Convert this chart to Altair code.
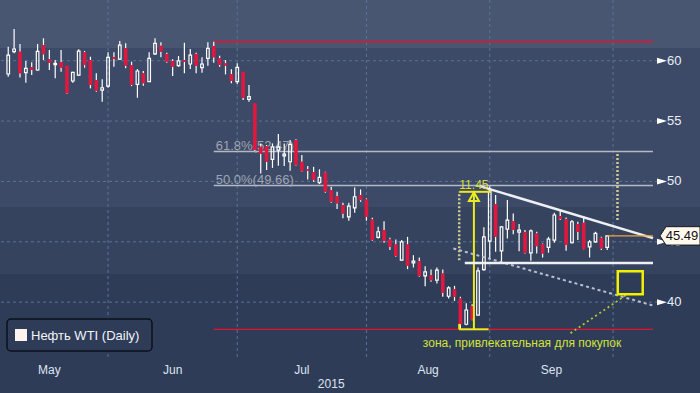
import altair as alt
import pandas as pd

# ---------------- data ----------------
opens = [58.90, 60.75, 60.75, 59.01, 59.45, 59.23, 61.30, 60.12, 59.67, 59.89,
         59.59, 58.32, 58.81, 60.70, 60.06, 58.40, 57.57, 57.90, 60.31, 60.14,
         61.03, 59.64, 58.04, 58.96, 58.26, 60.56, 61.24, 60.56, 59.98, 59.59,
         60.06, 59.73, 60.56, 59.42, 60.20, 61.22, 60.20, 59.78, 58.90, 58.26,
         59.09, 56.80, 56.47, 52.87, 52.93, 51.82, 52.60, 52.12, 51.63, 53.43,
         51.63, 51.00, 50.77, 49.89, 50.75, 49.28, 48.78, 48.04, 47.07, 47.81,
         48.87, 48.51, 46.85, 45.36, 45.97, 45.19, 44.78, 43.48, 44.78, 43.26,
         43.40, 42.18, 42.23, 41.82, 42.37, 40.49, 41.07, 40.30, 38.17, 39.68,
         38.92, 42.70, 45.06, 48.11, 44.25, 46.05, 46.71, 45.80, 45.80, 44.08,
         45.69, 44.80, 44.53, 45.14, 47.13, 46.86, 44.92, 46.46, 46.57, 44.58,
         45.00, 45.33, 44.53]
highs = [61.16, 62.63, 61.38, 59.98, 59.87, 61.38, 61.86, 60.89, 60.06, 60.89,
         59.59, 59.09, 60.94, 60.80, 60.33, 58.96, 58.46, 60.70, 60.70, 61.63,
         61.44, 59.92, 59.31, 59.15, 60.70, 61.86, 61.53, 60.66, 60.12, 60.39,
         61.49, 60.97, 60.66, 60.28, 61.53, 61.57, 60.41, 60.06, 59.29, 59.78,
         59.09, 57.99, 56.47, 53.15, 53.01, 53.15, 53.92, 53.15, 53.43, 53.49,
         52.18, 51.27, 51.21, 51.00, 50.80, 49.55, 49.14, 48.23, 48.23, 49.50,
         49.34, 48.59, 46.99, 46.24, 46.71, 45.33, 45.19, 45.14, 45.41, 43.89,
         43.70, 42.98, 42.71, 42.87, 42.71, 41.32, 41.35, 40.44, 39.90, 39.83,
         42.87, 46.20, 49.60, 48.87, 46.30, 48.46, 47.35, 46.47, 45.97, 46.02,
         45.83, 44.86, 45.41, 47.41, 47.68, 47.02, 46.80, 46.66, 47.13, 45.14,
         45.83, 45.41, 45.55]
lows = [58.67, 60.61, 58.62, 58.18, 58.81, 59.17, 60.06, 59.23, 58.54, 59.09,
        57.24, 58.18, 58.76, 59.42, 57.71, 57.43, 56.60, 57.76, 59.50, 60.06,
        59.37, 57.90, 56.93, 57.93, 58.26, 60.47, 60.28, 59.83, 58.73, 59.50,
        58.96, 59.31, 58.96, 59.01, 59.59, 59.83, 59.50, 58.87, 58.13, 58.07,
        56.74, 56.60, 52.55, 50.66, 50.94, 51.12, 51.29, 51.27, 50.88, 51.29,
        50.80, 50.17, 49.97, 49.78, 49.06, 48.23, 47.71, 46.94, 46.74, 47.40,
        48.31, 46.74, 45.08, 45.28, 44.91, 44.31, 43.75, 43.40, 42.73, 42.87,
        42.09, 41.32, 41.68, 41.54, 40.44, 40.30, 40.10, 37.75, 38.09, 38.51,
        38.92, 42.60, 43.60, 44.18, 43.34, 45.28, 45.63, 44.22, 44.03, 43.42,
        44.03, 43.70, 44.09, 44.92, 46.80, 44.25, 44.86, 45.14, 44.36, 43.70,
        44.92, 44.31, 44.31]
closes = [60.47, 60.97, 58.96, 59.37, 59.23, 60.78, 60.53, 59.83, 59.78, 59.42,
          57.30, 59.04, 60.80, 59.64, 57.99, 57.51, 57.76, 60.28, 60.14, 61.30,
          59.59, 57.99, 59.15, 58.13, 60.20, 61.44, 60.75, 59.92, 59.50, 59.98,
          59.92, 60.47, 59.59, 59.73, 61.03, 60.28, 59.64, 59.59, 58.32, 59.45,
          56.93, 57.02, 52.60, 52.27, 51.63, 52.87, 52.87, 52.27, 53.07, 51.35,
          50.85, 50.88, 50.11, 50.33, 49.14, 48.31, 48.18, 47.35, 47.96, 48.73,
          48.45, 47.05, 45.14, 45.83, 45.06, 44.58, 43.81, 45.00, 43.01, 43.40,
          42.15, 42.51, 41.82, 42.65, 40.77, 41.18, 40.44, 38.17, 39.35, 38.56,
          42.59, 45.40, 49.20, 45.42, 46.24, 46.79, 45.97, 45.97, 44.08, 45.91,
          44.64, 44.03, 45.22, 47.22, 46.88, 44.73, 46.66, 45.82, 44.39, 45.00,
          45.69, 44.45, 45.49]
day_index = list(range(len(closes)))

month_names = ["May", "Jun", "Jul", "Aug", "Sep"]
month_mid = [7, 28, 50, 71.5, 92.5]
month_end_index = [17, 39, 61, 82, 103]
year_label = "2015"
year_pos = 55

y_major = [40, 45, 50, 55, 60]
y_minor = [37.5, 42.5, 47.5, 52.5, 57.5, 62.5]

fib_levels = [52.47, 49.66]
fib_labels = ["61.8%(52.47)", "50.0%(49.66)"]
range_high, range_low = 61.57, 37.75
range_start = 35
last_price = 45.49
last_index = 102

move_label = "11.45"
move_top = 49.14
zone_label = "зона, привлекательная для покупок"
legend_label = "Нефть WTI (Daily)"

X_DOMAIN = [-0.55, 109.8]
Y_DOMAIN = [35.29, 65.03]
W, H = 658, 359

xs = alt.Scale(domain=X_DOMAIN, nice=False, zero=False)
ys = alt.Scale(domain=Y_DOMAIN, nice=False, zero=False)
FONT = "Liberation Sans"

one = pd.DataFrame({"d": [0]})


def seg(x1, y1, x2, y2, color, width, dash=None):
    df = pd.DataFrame({"x1": [x1], "y1": [y1], "x2": [x2], "y2": [y2]})
    kw = dict(color=color, strokeWidth=width)
    if dash:
        kw["strokeDash"] = dash
    return alt.Chart(df).mark_rule(**kw).encode(
        x=alt.X("x1:Q", scale=xs, axis=None),
        y=alt.Y("y1:Q", scale=ys, axis=None),
        x2="x2:Q", y2="y2:Q")


# ---------------- background bands ----------------
bands = [(0, 48, "#485671"), (48, 207, "#3d4a67"), (207, 274, "#36435f"), (274, 393, "#2f3c58")]
band_layers = [
    alt.Chart(one).mark_rect(color=c).encode(
        x=alt.value(0), x2=alt.value(700), y=alt.value(a), y2=alt.value(b))
    for a, b, c in bands
]

# ---------------- grid ----------------
grid_color = "#5a7394"
vgrid = alt.Chart(pd.DataFrame({"i": month_end_index})).mark_rule(
    color=grid_color, strokeDash=[3, 3], strokeWidth=1).encode(
    x=alt.X("i:Q", scale=xs, axis=None))
hgrid = alt.Chart(pd.DataFrame({"v": y_major})).mark_rule(
    color=grid_color, strokeDash=[3, 3], strokeWidth=1).encode(
    y=alt.Y("v:Q", scale=ys, axis=None))

# ---------------- hi / lo and fib ----------------
hilo = alt.Chart(pd.DataFrame({"v": [range_high, range_low], "a": [range_start] * 2,
                               "b": [X_DOMAIN[1]] * 2})).mark_rule(
    color="#e8102c", strokeWidth=1.3).encode(
    x=alt.X("a:Q", scale=xs, axis=None), x2="b:Q", y=alt.Y("v:Q", scale=ys, axis=None))

fib_df = pd.DataFrame({"v": fib_levels, "t": fib_labels, "a": [range_start] * 2,
                       "b": [X_DOMAIN[1]] * 2})
fib_lines = alt.Chart(fib_df).mark_rule(color="#b4b8c2", strokeWidth=1.5).encode(
    x=alt.X("a:Q", scale=xs, axis=None), x2="b:Q", y=alt.Y("v:Q", scale=ys, axis=None))
fib_text = alt.Chart(fib_df).mark_text(
    align="left", baseline="alphabetic", dx=2, dy=-2, font=FONT, fontSize=13,
    color="#9ea5b2").encode(
    x=alt.X("a:Q", scale=xs, axis=None), y=alt.Y("v:Q", scale=ys, axis=None), text="t:N")

# ---------------- candles ----------------
cdf = pd.DataFrame({"i": day_index, "open": opens, "high": highs, "low": lows, "close": closes})
base = alt.Chart(cdf).transform_calculate(
    top="max(datum.open, datum.close)", bot="min(datum.open, datum.close)",
    up="datum.close >= datum.open")

wick_hi = base.mark_rule(color="white", strokeWidth=1.2).encode(
    x=alt.X("i:Q", scale=xs, axis=alt.Axis(
        values=month_end_index, labels=False, ticks=True, tickSize=5, tickColor="white",
        tickWidth=1.2, domainColor="white", domainWidth=1.5, grid=False, title=None, zindex=1)),
    y=alt.Y("high:Q", scale=ys, axis=alt.Axis(
        orient="right", values=y_minor, labels=False, ticks=True, tickSize=5,
        tickColor="white", tickWidth=1.2, domainColor="white", domainWidth=1.5,
        grid=False, title=None, zindex=1)),
    y2="top:Q")
wick_lo = base.mark_rule(color="white", strokeWidth=1.2).encode(
    x=alt.X("i:Q", scale=xs, axis=None), y=alt.Y("bot:Q", scale=ys, axis=None), y2="low:Q")
up_body = base.transform_filter("datum.up").mark_bar(
    size=2.6, fill="transparent", stroke="white", strokeWidth=1.2).encode(
    x=alt.X("i:Q", scale=xs, axis=None), y=alt.Y("top:Q", scale=ys, axis=None), y2="bot:Q")
dn_body = base.transform_filter("!datum.up").mark_bar(
    size=3.6, color="#e3173e").encode(
    x=alt.X("i:Q", scale=xs, axis=None), y=alt.Y("top:Q", scale=ys, axis=None), y2="bot:Q")

# ---------------- annotations ----------------
yellow = "#ecec1c"
khaki = "#cfcb8f"
ann = [
    seg(76.8, move_top, 82.2, move_top, yellow, 2),
    seg(76.8, range_low, 81.8, range_low, yellow, 2),
    seg(79.3, range_low, 79.3, move_top, yellow, 2),
    seg(76.8, range_low, 76.8, 38.2, yellow, 2),
    seg(76.8, 43.48, 76.8, move_top, khaki, 2.5, [2, 2]),
    seg(103.75, 46.8, 103.75, fib_levels[0], khaki, 2.5, [2, 2]),
    seg(75.8, 44.45, X_DOMAIN[1], 39.72, "#b8c0d0", 2, [3, 3]),
    seg(80.3, 49.61, X_DOMAIN[1], 45.30, "#eef0f4", 2.5),
    seg(77.75, 43.25, X_DOMAIN[1], 43.25, "#eef0f4", 2.5),
    seg(95.75, 37.43, 105.6, 40.72, "#b5c832", 1.8, [2, 3]),
    seg(last_index, last_price, X_DOMAIN[1], last_price, "#f0a33c", 1.2),
]
arrow_head = alt.Chart(pd.DataFrame({"x": [79.3], "y": [48.74]})).mark_point(
    shape="triangle-up", filled=False, color=yellow, strokeWidth=2, size=100, opacity=1).encode(
    x=alt.X("x:Q", scale=xs, axis=None), y=alt.Y("y:Q", scale=ys, axis=None))
move_text = alt.Chart(pd.DataFrame({"x": [79.3], "y": [49.36], "t": [move_label]})).mark_text(
    font=FONT, fontSize=12, color="#d8dc3c", align="center", baseline="alphabetic").encode(
    x=alt.X("x:Q", scale=xs, axis=None), y=alt.Y("y:Q", scale=ys, axis=None), text="t:N")
zone_box = alt.Chart(pd.DataFrame({"a": [103.8], "b": [108.05], "c": [40.66], "d": [42.56]})).mark_rect(
    fill="transparent", stroke="#f0f000", strokeWidth=2.5).encode(
    x=alt.X("a:Q", scale=xs, axis=None), x2="b:Q",
    y=alt.Y("c:Q", scale=ys, axis=None), y2="d:Q")
zone_text = alt.Chart(pd.DataFrame({"x": [87.5], "y": [36.27], "t": [zone_label]})).mark_text(
    font=FONT, fontSize=12, color="#d2e23a", align="center", baseline="alphabetic").encode(
    x=alt.X("x:Q", scale=xs, axis=None), y=alt.Y("y:Q", scale=ys, axis=None), text="t:N")

# ---------------- axis labels ----------------
ylab_df = pd.DataFrame({"v": y_major, "t": [str(v) for v in y_major]})
y_tri = alt.Chart(ylab_df).mark_point(
    shape="M-1,-0.6L1,0L-1,0.6Z", filled=True, color="white", size=100, opacity=1).encode(
    x=alt.value(W + 4), y=alt.Y("v:Q", scale=ys, axis=None))
y_text = alt.Chart(ylab_df).mark_text(
    font=FONT, fontSize=13, color="#e8eef6", align="left", baseline="middle").encode(
    x=alt.value(W + 9), y=alt.Y("v:Q", scale=ys, axis=None), text="t:N")
m_text = alt.Chart(pd.DataFrame({"x": month_mid, "t": month_names})).mark_text(
    font=FONT, fontSize=12, color="#dde4ee", align="center", baseline="middle").encode(
    x=alt.X("x:Q", scale=xs, axis=None), y=alt.value(370), text="t:N")
yr_text = alt.Chart(pd.DataFrame({"x": [year_pos], "t": [year_label]})).mark_text(
    font=FONT, fontSize=12, color="#dde4ee", align="center", baseline="middle").encode(
    x=alt.X("x:Q", scale=xs, axis=None), y=alt.value(384), text="t:N")

price_box = alt.Chart(pd.DataFrame({"v": [last_price]})).mark_point(
    shape="M-1,0L-0.7,-0.46L1,-0.46L1,0.46L-0.7,0.46Z", filled=True, fill="#fff8ee",
    stroke="#1a1a1a", strokeWidth=1, size=1600, opacity=1).encode(
    x=alt.value(680), y=alt.Y("v:Q", scale=ys, axis=None))
price_text = alt.Chart(pd.DataFrame({"v": [last_price], "t": [f"{last_price:.2f}"]})).mark_text(
    font=FONT, fontSize=13, color="#111111", align="center", baseline="middle").encode(
    x=alt.value(682), y=alt.Y("v:Q", scale=ys, axis=None), text="t:N")

# ---------------- legend ----------------
leg_box = alt.Chart(one).mark_rect(
    fill="#2f3c58", stroke="#0b1018", strokeWidth=1.5, cornerRadius=4).encode(
    x=alt.value(7), x2=alt.value(152), y=alt.value(319), y2=alt.value(351))
leg_sq = alt.Chart(one).mark_rect(fill="#fff5ee").encode(
    x=alt.value(15), x2=alt.value(27), y=alt.value(329), y2=alt.value(341))
leg_text = alt.Chart(pd.DataFrame({"t": [legend_label]})).mark_text(
    font=FONT, fontSize=13, color="#f2f4f8", align="left", baseline="middle").encode(
    x=alt.value(31), y=alt.value(335.5), text="t:N")

chart = alt.layer(
    *band_layers, vgrid, hgrid, hilo, fib_lines, fib_text,
    wick_hi, wick_lo, up_body, dn_body,
    *ann, arrow_head, move_text, zone_box, zone_text,
    y_tri, y_text, m_text, yr_text, price_box, price_text,
    leg_box, leg_sq, leg_text,
).properties(
    width=W, height=H,
    autosize=alt.AutoSizeParams(type="none"),
    padding={"left": 0, "top": 0, "right": 700 - W, "bottom": 393 - H},
    background="#2e3b57",
).configure_view(strokeWidth=0)

chart.save("out.html", embed_options={"renderer": "svg", "actions": False})
